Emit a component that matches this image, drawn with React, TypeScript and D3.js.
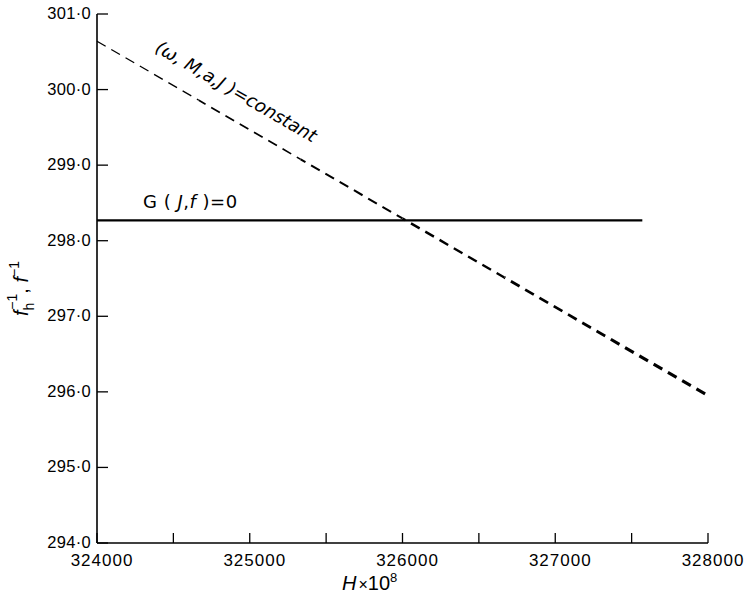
import React from "react";
import * as d3 from "d3";

const xTicksMajor = [324000, 325000, 326000, 327000, 328000];
const xTicksAll = [324000, 324500, 325000, 325500, 326000, 326500, 327000, 327500, 328000];
const yTicks = [294, 295, 296, 297, 298, 299, 300, 301];
const solidH = [324000, 327570];
const solidF = [298.27, 298.27];
const dashedH = [324000, 328000];
const dashedF = [300.64, 295.95];

const W = 744;
const H = 593;
const FONT = "'Liberation Sans', 'DejaVu Sans', sans-serif";

export default function App() {
  const x = d3.scaleLinear().domain([324000, 328000]).range([97, 708]);
  const y = d3.scaleLinear().domain([294, 301]).range([543, 14]);
  const line = d3
    .line<[number, number]>()
    .x((d) => x(d[0]))
    .y((d) => y(d[1]));

  const solidPts: [number, number][] = solidH.map((h, i) => [h, solidF[i]]);

  const N = 6;
  const x0 = x(dashedH[0]), y0 = y(dashedF[0]);
  const x1 = x(dashedH[1]), y1 = y(dashedF[1]);
  const total = Math.hypot(x1 - x0, y1 - y0);
  const pieces = d3.range(N).map((i) => {
    const t0 = i / N, t1 = (i + 1) / N;
    const a: [number, number] = [
      dashedH[0] + (dashedH[1] - dashedH[0]) * t0,
      dashedF[0] + (dashedF[1] - dashedF[0]) * t0,
    ];
    const b: [number, number] = [
      dashedH[0] + (dashedH[1] - dashedH[0]) * t1,
      dashedF[0] + (dashedF[1] - dashedF[0]) * t1,
    ];
    return { d: line([a, b]) || "", offset: total * t0, w: 1.3 + 2.2 * t0 };
  });
  const angle = (Math.atan2(y1 - y0, x1 - x0) * 180) / Math.PI;

  return (
    <svg
      width={W}
      height={H}
      style={{ position: "absolute", left: 0, top: 0, background: "#fff" }}
      fontFamily={FONT}
    >
      <line x1={x(324000)} x2={x(328000)} y1={y(294)} y2={y(294)} stroke="#000" strokeWidth={1.6} />
      <line x1={x(324000)} x2={x(324000)} y1={y(294)} y2={y(301)} stroke="#000" strokeWidth={1.6} />

      {xTicksAll.map((t) => (
        <line key={"xt" + t} x1={x(t)} x2={x(t)} y1={y(294)} y2={y(294) - 10} stroke="#000" strokeWidth={1.3} />
      ))}
      {xTicksMajor.map((t) => (
        <text key={"xl" + t} x={x(t) + 5} y={566} fontSize={17} textAnchor="middle" letterSpacing={1}>
          {String(t)}
        </text>
      ))}
      {yTicks.map((t) => (
        <g key={"yt" + t}>
          <line x1={x(324000)} x2={x(324000) + 11} y1={y(t)} y2={y(t)} stroke="#000" strokeWidth={1.3} />
          <text x={91} y={y(t) + 5} fontSize={16.5} textAnchor="end" letterSpacing={0.3}>
            {t.toFixed(1).replace(".", "·")}
          </text>
        </g>
      ))}

      <path d={line(solidPts) || ""} fill="none" stroke="#000" strokeWidth={2.2} />
      <text x={143} y={208} fontSize={18} fontFamily="'DejaVu Sans', sans-serif" letterSpacing={0.5}>
        G ( <tspan fontStyle="italic">J</tspan>,<tspan fontStyle="italic">f</tspan> )=0
      </text>

      {pieces.map((p, i) => (
        <path
          key={"dp" + i}
          d={p.d}
          fill="none"
          stroke="#000"
          strokeWidth={p.w}
          strokeDasharray="10,6.5"
          strokeDashoffset={p.offset}
        />
      ))}
      <text
        transform={`translate(154,51) rotate(${angle})`}
        fontSize={18}
        fontStyle="italic"
        fontFamily="'DejaVu Sans', sans-serif"
      >
        (ω, M,a,J )=constant
      </text>

      <text x={342} y={590} fontSize={20}>
        <tspan fontStyle="italic">H</tspan>
        <tspan dx={2} fontSize={16}>×</tspan>
        <tspan>10</tspan>
        <tspan fontSize={13} dy={-8}>8</tspan>
      </text>
      <text transform="translate(28,316) rotate(-90)" fontSize={20} fontStyle="italic">
        <tspan>f</tspan>
        <tspan fontSize={14} dy={6} fontStyle="normal">h</tspan>
        <tspan fontSize={14} dy={-17} dx={-7} fontStyle="normal">−1</tspan>
        <tspan dy={11} fontStyle="normal">, </tspan>
        <tspan>f</tspan>
        <tspan fontSize={14} dy={-9} fontStyle="normal">−1</tspan>
      </text>
    </svg>
  );
}
